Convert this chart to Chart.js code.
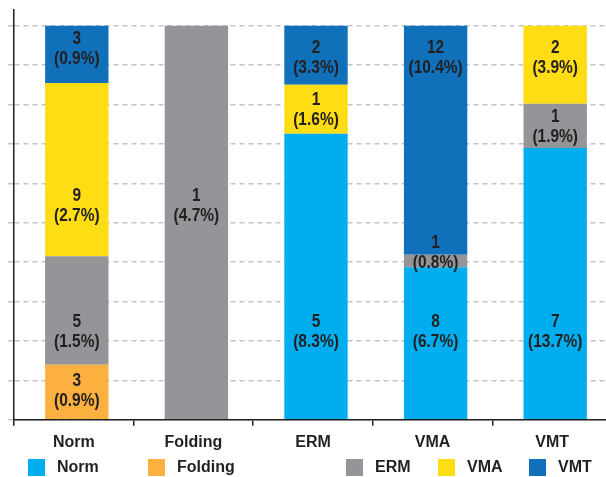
<!DOCTYPE html>
<html>
<head>
<meta charset="utf-8">
<script src="https://cdn.jsdelivr.net/npm/chart.js@4.4.1/dist/chart.umd.min.js"></script>
<style>
  html, body { margin: 0; padding: 0; background: #fff; overflow: hidden; }
  #wrap { position: relative; width: 606px; height: 477px; overflow: hidden; }
  #box { position: absolute; left: 0; top: 0; width: 612px; height: 461px; }
  .lg { position: absolute; top: 458px; height: 18px; display: flex; align-items: center;
        font: bold 16px "Liberation Sans", Arial, sans-serif; color: #231f20; }
  .lg span { display: inline-block; width: 17px; height: 17px; margin-right: 12px; }
</style>
</head>
<body>
<div id="wrap">
  <div id="box"><canvas id="chart"></canvas></div>
  <div class="lg" style="left:28px"><span style="background:#00aeef"></span>Norm</div>
  <div class="lg" style="left:148px"><span style="background:#fbb040"></span>Folding</div>
  <div class="lg" style="left:346px"><span style="background:#939598"></span>ERM</div>
  <div class="lg" style="left:438px"><span style="background:#ffdd15"></span>VMA</div>
  <div class="lg" style="left:529px"><span style="background:#1170ba"></span>VMT</div>
</div>
<script>
const categories = ['Norm', 'Folding', 'ERM', 'VMA', 'VMT'];

// share of each bar (%)
const normShare    = [0, 0, 72.6, 38.7, 69.0];
const foldingShare = [14.0, 0, 0, 0, 0];
const ermShare     = [27.5, 100, 0, 3.2, 11.2];
const vmaShare     = [44.0, 0, 12.4, 0, 19.8];
const vmtShare     = [14.5, 0, 15.0, 58.1, 0];

// counts and percentages printed on the segments
const normCount    = [null, null, 5, 8, 7];
const normPct      = [null, null, '8.3%', '6.7%', '13.7%'];
const foldingCount = [3, null, null, null, null];
const foldingPct   = ['0.9%', null, null, null, null];
const ermCount     = [5, 1, null, 1, 1];
const ermPct       = ['1.5%', '4.7%', null, '0.8%', '1.9%'];
const vmaCount     = [9, null, 1, null, 2];
const vmaPct       = ['2.7%', null, '1.6%', null, '3.9%'];
const vmtCount     = [3, null, 2, 12, null];
const vmtPct       = ['0.9%', null, '3.3%', '10.4%', null];

// where each label sits, in axis units
const labelAt = [
    [null, null, 22.4, 22.4, 22.4],
    [7.4, null, null, null, null],
    [22.4, 54.3, null, 42.3, 74.2],
    [54.3, null, 78.5, null, 91.9],
    [94.1, null, 91.9, 91.9, null]
];

const font = '"Liberation Sans", Arial, sans-serif';
const ink = '#231f20';
const barShift = 3;

const counts = [normCount, foldingCount, ermCount, vmaCount, vmtCount];
const pcts = [normPct, foldingPct, ermPct, vmaPct, vmtPct];

const segmentLabels = {
    id: 'segmentLabels',
    beforeDatasetsDraw(chart) {
        chart.ctx.save();
        chart.ctx.translate(barShift, 0);
    },
    afterDatasetsDraw(chart) {
        const ctx = chart.ctx;
        ctx.restore();
        const y = chart.scales.y;
        ctx.save();
        ctx.fillStyle = ink;
        ctx.font = 'bold 18px ' + font;
        ctx.textAlign = 'center';
        ctx.textBaseline = 'middle';
        counts.forEach((row, i) => {
            const meta = chart.getDatasetMeta(i);
            row.forEach((c, j) => {
                if (c === null) return;
                const x = meta.data[j].x + barShift;
                const py = y.getPixelForValue(labelAt[i][j]);
                ctx.save();
                ctx.translate(x, py);
                ctx.scale(0.86, 1);
                ctx.fillText(String(c), 0, -10);
                ctx.fillText('(' + pcts[i][j] + ')', 0, 10);
                ctx.restore();
            });
        });
        ctx.restore();
    }
};

const ctx = document.getElementById('chart').getContext('2d');

new Chart(ctx, {
    type: 'bar',
    data: {
        labels: categories,
        datasets: [
            { label: 'Norm', data: normShare, backgroundColor: '#00aeef' },
            { label: 'Folding', data: foldingShare, backgroundColor: '#fbb040' },
            { label: 'ERM', data: ermShare, backgroundColor: '#939598' },
            { label: 'VMA', data: vmaShare, backgroundColor: '#ffdd15' },
            { label: 'VMT', data: vmtShare, backgroundColor: '#1170ba' }
        ]
    },
    options: {
        responsive: true,
        maintainAspectRatio: false,
        animation: false,
        layout: { padding: { left: 8, top: 10, right: 0, bottom: 2 } },
        datasets: { bar: { barPercentage: 0.53, categoryPercentage: 1, borderWidth: 0 } },
        plugins: { legend: { display: false }, tooltip: { enabled: false } },
        scales: {
            x: {
                stacked: true,
                grid: { drawOnChartArea: false, drawTicks: true, tickLength: 6, color: ink, lineWidth: 1.5 },
                border: { color: ink, width: 1.5 },
                ticks: { color: ink, padding: 7, font: { family: font, size: 16, weight: 'bold' } }
            },
            y: {
                stacked: true,
                min: 0,
                max: 104,
                grid: { color: '#c4c4c4', lineWidth: 1.5, tickLength: 6, tickColor: '#c4c4c4' },
                border: { color: ink, width: 1.5, dash: [5, 4] },
                ticks: { display: false, stepSize: 10, includeBounds: false }
            }
        }
    },
    plugins: [segmentLabels]
});
</script>
</body>
</html>
